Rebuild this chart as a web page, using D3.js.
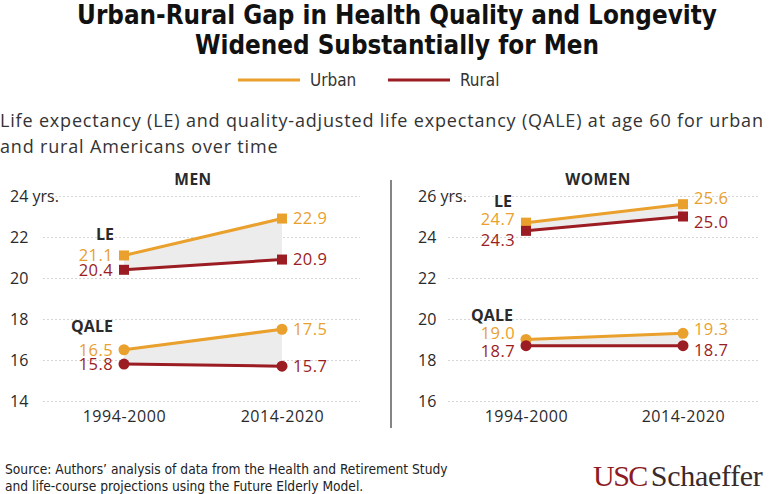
<!DOCTYPE html>
<html><head><meta charset="utf-8">
<script src="https://cdn.jsdelivr.net/npm/d3@7"></script>
<style>
body{margin:0;background:#fff;}
svg{display:block;}
</style></head><body>
<script>
const periods = ["1994-2000", "2014-2020"];
const menLEUrban = [21.1, 22.9];
const menLERural = [20.4, 20.9];
const menQALEUrban = [16.5, 17.5];
const menQALERural = [15.8, 15.7];
const womenLEUrban = [24.7, 25.6];
const womenLERural = [24.3, 25.0];
const womenQALEUrban = [19.0, 19.3];
const womenQALERural = [18.7, 18.7];
const menTicks = [14, 16, 18, 20, 22, 24];
const womenTicks = [16, 18, 20, 22, 24, 26];

const URBAN = "#E9A02C", RURAL = "#9B1C22", TXT = "#2a2a2a";
const W = 777, H = 494;
const svg = d3.select("body").append("svg").attr("width", W).attr("height", H);

function fitWidth(sel, target) {
  const len = sel.node().getComputedTextLength();
  if (len > 0) {
    const fs = parseFloat(sel.attr("font-size"));
    sel.attr("font-size", fs * target / len);
  }
}
function spreadWidth(sel, target) {
  const len = sel.node().getComputedTextLength();
  const n = sel.text().length;
  if (len > 0 && n > 1) sel.attr("letter-spacing", (target - len) / (n - 1));
}

// Title
const titleFont = "'DejaVu Sans Condensed', 'Liberation Sans Narrow', sans-serif";
const t1 = svg.append("text").attr("x", 397).attr("y", 24).attr("text-anchor","middle")
  .attr("font-family", titleFont).attr("font-weight","bold").attr("font-size", 26).attr("fill","#111")
  .text("Urban-Rural Gap in Health Quality and Longevity");
fitWidth(t1, 640);
const titleFs = t1.attr("font-size");
svg.append("text").attr("x", 397).attr("y", 54).attr("text-anchor","middle")
  .attr("font-family", titleFont).attr("font-weight","bold").attr("font-size", titleFs).attr("fill","#111")
  .text("Widened Substantially for Men");

// Legend
const legend = [{name:"Urban", c:URBAN, x:238}, {name:"Rural", c:RURAL, x:388}];
legend.forEach(l => {
  svg.append("line").attr("x1", l.x).attr("x2", l.x+62).attr("y1", 80).attr("y2", 80)
    .attr("stroke", l.c).attr("stroke-width", 3);
  svg.append("text").attr("x", l.x+72).attr("y", 86).attr("font-family", titleFont)
    .attr("font-size", 17).attr("fill", "#333").text(l.name);
});

// Subtitle
const subFont = "'Open Sans', sans-serif";
const s1 = svg.append("text").attr("x", 0).attr("y", 127).attr("font-family", subFont).attr("font-size", 18).attr("fill", "#333")
  .text("Life expectancy (LE) and quality-adjusted life expectancy (QALE) at age 60 for urban");
spreadWidth(s1, 763);
svg.append("text").attr("x", 0).attr("y", 153).attr("font-family", subFont).attr("font-size", 18).attr("fill", "#333")
  .attr("letter-spacing", s1.attr("letter-spacing"))
  .text("and rural Americans over time");

const numFont = "'Open Sans', sans-serif";

function panel(opt) {
  const g = svg.append("g");
  const y = d3.scaleLinear().domain([opt.ticks[0], opt.ticks[opt.ticks.length-1]]).range([401, 196]);
  const x = d3.scalePoint().domain(periods).range(opt.xr);

  const ax = d3.axisLeft(y).tickValues(opt.ticks).tickSize(-(opt.g1 - opt.g0))
    .tickFormat(d => d === opt.ticks[opt.ticks.length-1] ? d + " yrs." : d);
  const axG = g.append("g").attr("transform", `translate(${opt.g0},0)`).call(ax);
  axG.select(".domain").remove();
  axG.selectAll(".tick line").attr("stroke", "#d6d6d6").attr("stroke-dasharray", "2,2").attr("stroke-width", 1);
  axG.selectAll(".tick text").attr("x", opt.tx - opt.g0).attr("text-anchor", "start")
    .attr("font-family", numFont).attr("font-size", 16).attr("fill", TXT);

  const xa = d3.axisBottom(x).tickSize(0).tickPadding(0);
  const xG = g.append("g").attr("transform", `translate(0,411)`).call(xa);
  xG.select(".domain").remove();
  xG.selectAll("text").attr("font-family", numFont).attr("font-size", 16).attr("fill", TXT).attr("dy", "0.71em")
    .attr("letter-spacing", 0.6);

  g.append("text").attr("x", opt.titleX).attr("y", 185).attr("text-anchor", "middle")
    .attr("font-family", "'Open Sans', sans-serif").attr("font-weight", "bold").attr("font-size", 15.5)
    .attr("fill", TXT).attr("letter-spacing", 0.5).text(opt.title);

  opt.groups.forEach(grp => {
    const areaData = periods.map((p, i) => ({p, u: grp.urban[i], r: grp.rural[i]}));
    g.append("path").datum(areaData)
      .attr("d", d3.area().x(d => x(d.p)).y0(d => y(d.r)).y1(d => y(d.u)))
      .attr("fill", "#ececec");
    [{v: grp.urban, c: URBAN, key: "u"}, {v: grp.rural, c: RURAL, key: "r"}].forEach(s => {
      const pts = periods.map((p, i) => ({p, v: s.v[i]}));
      g.append("path").datum(pts).attr("d", d3.line().x(d => x(d.p)).y(d => y(d.v)))
        .attr("fill", "none").attr("stroke", s.c).attr("stroke-width", 3);
      pts.forEach((d, i) => {
        if (grp.shape === "square") {
          g.append("rect").attr("x", x(d.p) - 5).attr("y", y(d.v) - 5).attr("width", 10).attr("height", 10).attr("fill", s.c);
        } else {
          g.append("circle").attr("cx", x(d.p)).attr("cy", y(d.v)).attr("r", 5.5).attr("fill", s.c);
        }
        const off = (grp.labelOff && grp.labelOff[s.key] && grp.labelOff[s.key][i]) || 0;
        g.append("text")
          .attr("x", i === 0 ? x(d.p) - 11 : x(d.p) + 11)
          .attr("y", y(d.v) + off).attr("dy", "0.35em")
          .attr("text-anchor", i === 0 ? "end" : "start")
          .attr("font-family", numFont).attr("font-size", 16.5).attr("fill", s.c).attr("letter-spacing", 0.4)
          .text(d.v.toFixed(1));
      });
    });
    g.append("text").attr("x", grp.labelX).attr("y", grp.labelY).attr("text-anchor", "middle")
      .attr("font-family", "'Open Sans', sans-serif").attr("font-weight", "bold").attr("font-size", 16)
      .attr("fill", TXT).text(grp.name);
  });
}

panel({
  title: "MEN", titleX: 193, ticks: menTicks, xr: [124, 282], g0: 43, g1: 360, tx: 10,
  groups: [
    {name: "LE", shape: "square", urban: menLEUrban, rural: menLERural, labelX: 105, labelY: 240},
    {name: "QALE", shape: "circle", urban: menQALEUrban, rural: menQALERural, labelX: 92, labelY: 332}
  ]
});
panel({
  title: "WOMEN", titleX: 598, ticks: womenTicks, xr: [526, 683], g0: 448, g1: 760, tx: 418,
  groups: [
    {name: "LE", shape: "square", urban: womenLEUrban, rural: womenLERural, labelX: 503, labelY: 207,
     labelOff: {u: [-3, -6], r: [9, 6]}},
    {name: "QALE", shape: "circle", urban: womenQALEUrban, rural: womenQALERural, labelX: 492, labelY: 321,
     labelOff: {u: [-6, -4], r: [6, 5]}}
  ]
});

svg.append("line").attr("x1", 391).attr("x2", 391).attr("y1", 180).attr("y2", 428).attr("stroke", "#333").attr("stroke-width", 1.2);

// Source
const src1 = svg.append("text").attr("x", 5).attr("y", 474).attr("font-family", titleFont).attr("font-size", 14).attr("fill", "#222")
  .text("Source: Authors\u2019 analysis of data from the Health and Retirement Study");
fitWidth(src1, 443);
svg.append("text").attr("x", 5).attr("y", 491).attr("font-family", titleFont).attr("font-size", src1.attr("font-size")).attr("fill", "#222")
  .text("and life-course projections using the Future Elderly Model.");

// Logo
const logo = svg.append("text").attr("x", 593).attr("y", 486).attr("font-family", "'Liberation Serif', serif").attr("font-size", 30);
logo.append("tspan").attr("fill", "#8E1B22").attr("letter-spacing", -1.5).text("USC");
logo.append("tspan").attr("fill", "#3a2a2a").attr("dx", 4).attr("letter-spacing", -0.3).text("Schaeffer");
</script>
</body></html>
